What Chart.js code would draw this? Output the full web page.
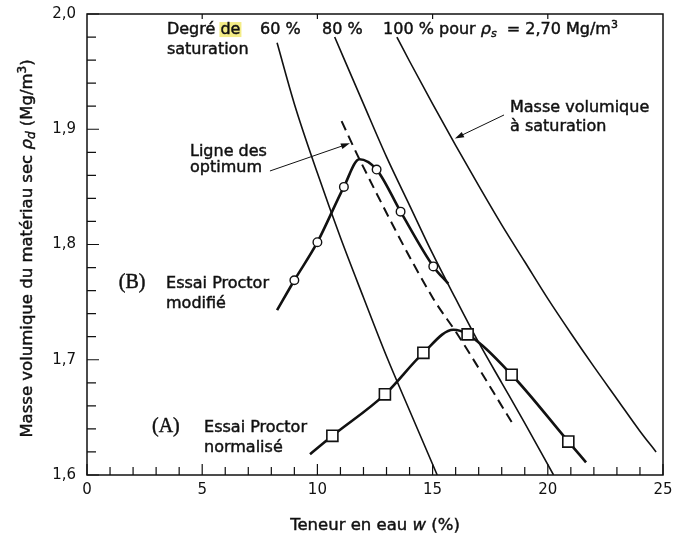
<!DOCTYPE html>
<html>
<head>
<meta charset="utf-8">
<script src="https://cdn.jsdelivr.net/npm/chart.js@4.4.1/dist/chart.umd.min.js"></script>
<style>
  body { margin: 0; background: #fff; }
  #wrap { width: 675px; height: 539px; position: relative; }
</style>
</head>
<body>
<div id="wrap"><canvas id="proctorChart"></canvas></div>
<script>
// ─── Data (w in %, ρd in Mg/m³) ─────────────────────────────────────────────
const xTicks = [0, 5, 10, 15, 20, 25];
const yTicks = [1.6, 1.7, 1.8, 1.9, 2.0];

// saturation lines (ρs = 2,70 Mg/m³)
const sat60W = [8.25, 9, 10, 11, 12, 13, 14, 15.2];
const sat60Rho = [1.975, 1.922, 1.862, 1.806, 1.754, 1.703, 1.656, 1.600];
const sat80W = [10.75, 12, 13, 14, 15, 16, 17, 18, 19, 20.25];
const sat80Rho = [1.980, 1.922, 1.876, 1.834, 1.792, 1.753, 1.715, 1.680, 1.645, 1.600];
const sat100W = [13.45, 14, 15, 16, 17, 18, 19, 20, 21, 22, 23, 24, 24.7];
const sat100Rho = [1.980, 1.959, 1.922, 1.886, 1.851, 1.817, 1.785, 1.753, 1.723, 1.694, 1.666, 1.638, 1.620];

// ligne des optimum (dashed)
const optW = [11.05, 11.85, 15.03, 16.05, 18.43];
const optRho = [1.907, 1.873, 1.753, 1.723, 1.646];

// (B) Essai Proctor modifié
const proctorBCurveW = [8.25, 9.0, 10.0, 11.15, 11.82, 12.57, 13.61, 15.03, 15.68];
const proctorBCurveRho = [1.743, 1.769, 1.802, 1.850, 1.874, 1.865, 1.8285, 1.781, 1.766];
const proctorBW = [9.0, 10.0, 11.15, 12.57, 13.61, 15.03];
const proctorBRho = [1.769, 1.802, 1.850, 1.865, 1.8285, 1.781];

// (A) Essai Proctor normalisé
const proctorACurveW = [9.68, 10.65, 12.93, 14.6, 15.9, 16.52, 18.43, 20.89, 21.66];
const proctorACurveRho = [1.618, 1.634, 1.670, 1.706, 1.726, 1.722, 1.687, 1.629, 1.611];
const proctorAW = [10.65, 12.93, 14.6, 16.52, 18.43, 20.89];
const proctorARho = [1.634, 1.670, 1.706, 1.722, 1.687, 1.629];

const FONT = '"DejaVu Sans", sans-serif';
const INK = '#111';

function pts(ws, rhos) {
  return ws.map((w, i) => ({ x: w, y: rhos[i] }));
}

// ─── Annotations (positioned in data units) ─────────────────────────────────
const R = (t, o = {}) => Object.assign({ t }, o);
const notes = [
  { x: 3.47, y: 1.9826, runs: [R('Degré '), R('de', { mark: true })] },
  { x: 3.47, y: 1.9653, runs: [R('saturation')] },
  { x: 7.51, y: 1.9826, runs: [R('60 %')] },
  { x: 10.2, y: 1.9826, runs: [R('80 %')] },
  { x: 12.85, y: 1.9826, runs: [R('100 % pour '), R('ρ', { italic: true }), R('s', { italic: true, small: true, dy: 3 }),
    R('  = 2,70 Mg/m'), R('3', { small: true, dy: -6 })] },
  { x: 18.36, y: 1.915, runs: [R('Masse volumique')] },
  { x: 18.36, y: 1.8985, runs: [R('à saturation')] },
  { x: 4.47, y: 1.8768, runs: [R('Ligne des')] },
  { x: 4.47, y: 1.8629, runs: [R('optimum')] },
  { x: 1.38, y: 1.7623, runs: [R('(B)', { serif: true })] },
  { x: 3.43, y: 1.7623, runs: [R('Essai Proctor')] },
  { x: 3.43, y: 1.7449, runs: [R('modifié')] },
  { x: 2.82, y: 1.6373, runs: [R('(A)', { serif: true })] },
  { x: 5.08, y: 1.6373, runs: [R('Essai Proctor')] },
  { x: 5.08, y: 1.6200, runs: [R('normalisé')] },
];

const arrows = [
  { from: [7.94, 1.8638], to: [11.41, 1.8878] },
  { from: [18.1, 1.9124], to: [15.97, 1.892] },
];

function runFont(r, base) {
  const size = r.small ? Math.round(base * 0.7) : base;
  if (r.serif) return `20px "Liberation Serif", serif`;
  return `${r.italic ? 'italic ' : ''}${size}px ${FONT}`;
}

function drawRuns(ctx, runs, x, y, align, base = 16) {
  let total = 0;
  runs.forEach(r => { ctx.font = runFont(r, base); total += ctx.measureText(r.t).width; });
  let cx = align === 'center' ? x - total / 2 : x;
  runs.forEach(r => {
    ctx.font = runFont(r, base);
    const w = ctx.measureText(r.t).width;
    if (r.mark) {
      ctx.fillStyle = '#f3ec86';
      ctx.fillRect(cx - 1, y - 12, w + 2, 15);
    }
    ctx.fillStyle = INK;
    ctx.strokeStyle = INK;
    ctx.lineWidth = 0.45;
    ctx.fillText(r.t, cx, y + (r.dy || 0));
    ctx.strokeText(r.t, cx, y + (r.dy || 0));
    cx += w;
  });
}

const decorPlugin = {
  id: 'decor',
  afterDraw(chart) {
    const { ctx, chartArea: a, scales: { x, y } } = chart;
    ctx.save();

    // frame
    ctx.strokeStyle = INK;
    ctx.lineWidth = 1.5;
    ctx.strokeRect(a.left, a.top, a.right - a.left, a.bottom - a.top);

    // inward ticks
    ctx.lineWidth = 1.2;
    ctx.beginPath();
    for (let v = 0; v <= 25; v += 1) {
      const px = x.getPixelForValue(v);
      const len = v % 5 === 0 ? 11 : 8;
      ctx.moveTo(px, a.bottom); ctx.lineTo(px, a.bottom - len);
    }
    xTicks.slice(1, -1).forEach(v => {
      const px = x.getPixelForValue(v);
      ctx.moveTo(px, a.top); ctx.lineTo(px, a.top + 5);
    });
    for (let i = 0; i <= 20; i++) {
      const v = 1.6 + i * 0.02;
      const py = y.getPixelForValue(v);
      const len = i % 5 === 0 ? 12 : 9;
      ctx.moveTo(a.left, py); ctx.lineTo(a.left + len, py);
    }
    ctx.stroke();

    // arrows
    ctx.lineWidth = 1;
    arrows.forEach(ar => {
      const x0 = x.getPixelForValue(ar.from[0]), y0 = y.getPixelForValue(ar.from[1]);
      const x1 = x.getPixelForValue(ar.to[0]), y1 = y.getPixelForValue(ar.to[1]);
      const ang = Math.atan2(y1 - y0, x1 - x0);
      ctx.beginPath();
      ctx.moveTo(x0, y0); ctx.lineTo(x1 - 6 * Math.cos(ang), y1 - 6 * Math.sin(ang));
      ctx.stroke();
      ctx.beginPath();
      ctx.moveTo(x1, y1);
      ctx.lineTo(x1 - 9 * Math.cos(ang) + 3 * Math.sin(ang), y1 - 9 * Math.sin(ang) - 3 * Math.cos(ang));
      ctx.lineTo(x1 - 9 * Math.cos(ang) - 3 * Math.sin(ang), y1 - 9 * Math.sin(ang) + 3 * Math.cos(ang));
      ctx.closePath();
      ctx.fillStyle = INK;
      ctx.fill();
    });

    // text notes
    ctx.textBaseline = 'alphabetic';
    ctx.textAlign = 'left';
    notes.forEach(n => drawRuns(ctx, n.runs, x.getPixelForValue(n.x), y.getPixelForValue(n.y), 'left'));

    // axis titles
    drawRuns(ctx, [R('Teneur en eau '), R('w', { italic: true }), R(' (%)')],
      (a.left + a.right) / 2, 530, 'center', 16.5);
    ctx.translate(32, (a.top + a.bottom) / 2 + 4);
    ctx.rotate(-Math.PI / 2);
    drawRuns(ctx, [R('Masse volumique du matériau sec '), R('ρ', { italic: true }),
      R('d', { italic: true, small: true, dy: 3 }), R(' (Mg/m'), R('3', { small: true, dy: -6 }), R(')')],
      0, 0, 'center', 16.5);
    ctx.restore();
  }
};

const satLine = (data) => ({
  data, showLine: true, borderColor: INK, borderWidth: 1.6, pointRadius: 0,
  cubicInterpolationMode: 'monotone', order: 2,
});

new Chart(document.getElementById('proctorChart'), {
  type: 'scatter',
  data: {
    datasets: [
      satLine(pts(sat60W, sat60Rho)),
      satLine(pts(sat80W, sat80Rho)),
      satLine(pts(sat100W, sat100Rho)),
      {
        data: pts(optW, optRho), showLine: true, borderColor: INK, borderWidth: 2,
        borderDash: [10, 6], pointRadius: 0, cubicInterpolationMode: 'monotone', order: 2,
      },
      {
        data: pts(proctorBCurveW, proctorBCurveRho), showLine: true, borderColor: INK,
        borderWidth: 2.6, pointRadius: 0, cubicInterpolationMode: 'monotone', order: 1,
      },
      {
        data: pts(proctorACurveW, proctorACurveRho), showLine: true, borderColor: INK,
        borderWidth: 2.6, pointRadius: 0, cubicInterpolationMode: 'monotone', order: 1,
      },
      {
        data: pts(proctorBW, proctorBRho), pointStyle: 'circle', pointRadius: 4.3,
        pointBackgroundColor: '#fff', pointBorderColor: INK, pointBorderWidth: 1.4, order: 0,
      },
      {
        data: pts(proctorAW, proctorARho), pointStyle: 'rect', pointRadius: 7.8,
        pointBackgroundColor: '#fff', pointBorderColor: INK, pointBorderWidth: 1.6, order: 0,
      },
    ]
  },
  options: {
    responsive: true,
    maintainAspectRatio: false,
    animation: false,
    events: [],
    layout: { padding: { top: 14, right: 12, left: 0, bottom: 0 } },
    plugins: { legend: { display: false }, tooltip: { enabled: false } },
    scales: {
      x: {
        type: 'linear', min: 0, max: 25,
        afterFit: s => { s.height = 64; s.paddingLeft = 0; s.paddingRight = 0; },
        afterBuildTicks: s => { s.ticks = xTicks.map(v => ({ value: v })); },
        grid: { display: false, drawTicks: false },
        border: { display: false },
        ticks: { padding: 6, color: INK, font: { family: FONT, size: 15 }, callback: v => String(v) },
      },
      y: {
        type: 'linear', min: 1.6, max: 2.0,
        afterFit: s => { s.width = 87; s.paddingTop = 0; s.paddingBottom = 0; },
        afterBuildTicks: s => { s.ticks = yTicks.map(v => ({ value: v })); },
        grid: { display: false, drawTicks: false },
        border: { display: false },
        ticks: { padding: 11, color: INK, font: { family: FONT, size: 15 },
          callback: v => v.toFixed(1).replace('.', ',') },
      }
    }
  },
  plugins: [decorPlugin]
});
</script>
</body>
</html>
